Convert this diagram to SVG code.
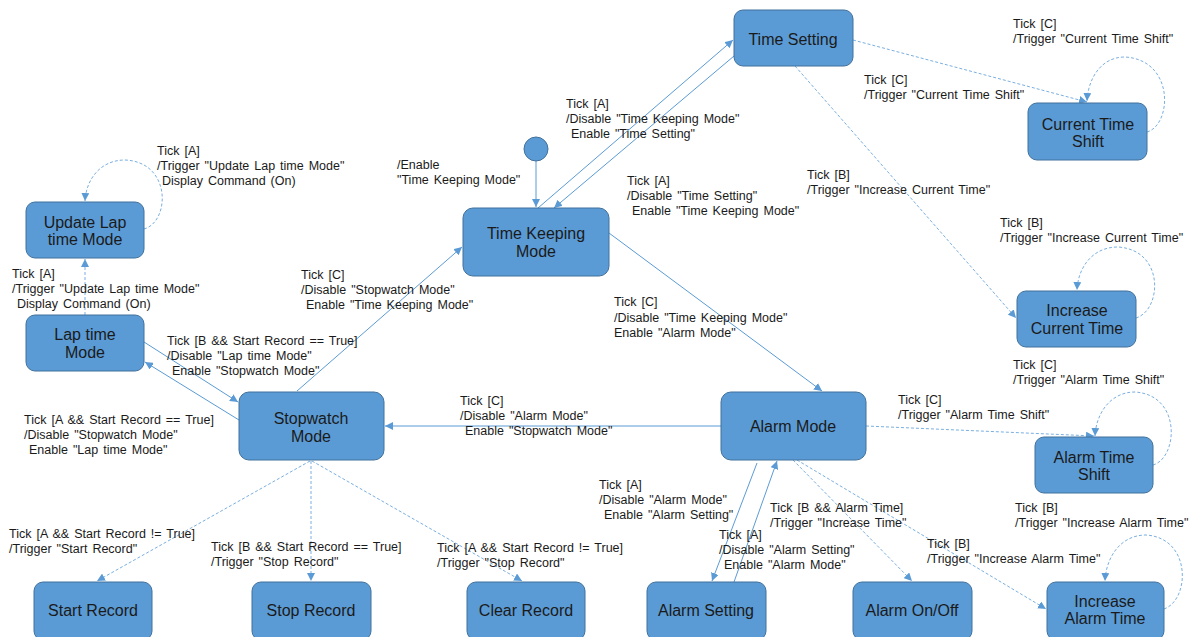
<svg xmlns="http://www.w3.org/2000/svg" width="1198" height="637" viewBox="0 0 1198 637">
<style>
.n{fill:#5b9bd5;stroke:#41719c;stroke-width:1}
.nt{font-family:"Liberation Sans",Arial,sans-serif;font-size:16px;fill:#1a1a1a;text-anchor:middle}
.lb{font-family:"Liberation Sans",Arial,sans-serif;font-size:12.5px;fill:#1a1a1a;word-spacing:1.5px}
.s{fill:none;stroke:#5b9bd5;stroke-width:1;marker-end:url(#ah)}
.d{fill:none;stroke:#7aafe0;stroke-width:1;stroke-dasharray:3 2;marker-end:url(#ah)}
</style>
<defs>
<marker id="ah" viewBox="0 0 10 10" refX="10" refY="5" markerWidth="8" markerHeight="8" markerUnits="userSpaceOnUse" orient="auto"><path d="M0,0 L10,5 L0,10 z" fill="#5b9bd5"/></marker>
</defs>
<rect width="1198" height="637" fill="#ffffff"/>
<g id="connectors">
<path class="s" d="M536,161 L536,207"/>
<path class="s" d="M538,208 L733,40"/>
<path class="s" d="M734,56 L554,208"/>
<path class="d" d="M853,40 L1087,102"/>
<path class="d" d="M1147,132 C1172,125 1175,60 1125,57 C1100,57 1088,80 1087,101"/>
<path class="d" d="M795,66 L1016,318"/>
<path class="d" d="M1136,318 C1162,310 1165,250 1118,247 C1092,247 1078,268 1077,290"/>
<path class="s" d="M609,233 L822,391"/>
<path class="s" d="M721,426 L385,426"/>
<path class="d" d="M866,426 L1094,436"/>
<path class="d" d="M1153,465 C1178,458 1182,395 1135,392 C1110,392 1096,414 1095,436"/>
<path class="s" d="M757,463 L712,581"/>
<path class="s" d="M734,582 L777,461"/>
<path class="d" d="M793,460 L912,581"/>
<path class="d" d="M797,460 L1046,609"/>
<path class="d" d="M1164,609 C1190,600 1192,538 1146,535 C1120,535 1106,558 1105,581"/>
<path class="s" d="M297,391 L462,247"/>
<path class="s" d="M144,342 L238,402"/>
<path class="s" d="M239,420 L145,362"/>
<path class="d" d="M85,315 L85,259"/>
<path class="d" d="M144,229 C170,222 172,162 125,160 C100,160 86,180 85,201"/>
<path class="d" d="M310,461 L97,581"/>
<path class="d" d="M311,461 L311,581"/>
<path class="d" d="M312,461 L522,581"/>
</g>
<g id="labels">
<text class="lb" x="157" y="155">Tick [A]</text>
<text class="lb" x="157" y="170">/Trigger "Update Lap time Mode"</text>
<text class="lb" x="162" y="185">Display Command (On)</text>
<text class="lb" x="12" y="278">Tick [A]</text>
<text class="lb" x="12" y="293">/Trigger "Update Lap time Mode"</text>
<text class="lb" x="17" y="308">Display Command (On)</text>
<text class="lb" x="167" y="345">Tick [B &amp;&amp; Start Record == True]</text>
<text class="lb" x="167" y="360">/Disable "Lap time Mode"</text>
<text class="lb" x="172" y="375">Enable "Stopwatch Mode"</text>
<text class="lb" x="24" y="424">Tick [A &amp;&amp; Start Record == True]</text>
<text class="lb" x="24" y="439">/Disable "Stopwatch Mode"</text>
<text class="lb" x="29" y="454">Enable "Lap time Mode"</text>
<text class="lb" x="301" y="279">Tick [C]</text>
<text class="lb" x="301" y="294">/Disable "Stopwatch Mode"</text>
<text class="lb" x="306" y="309">Enable "Time Keeping Mode"</text>
<text class="lb" x="397" y="169">/Enable</text>
<text class="lb" x="397" y="184">"Time Keeping Mode"</text>
<text class="lb" x="566" y="108">Tick [A]</text>
<text class="lb" x="566" y="123">/Disable "Time Keeping Mode"</text>
<text class="lb" x="571" y="138">Enable "Time Setting"</text>
<text class="lb" x="627" y="185">Tick [A]</text>
<text class="lb" x="627" y="200">/Disable "Time Setting"</text>
<text class="lb" x="632" y="215">Enable "Time Keeping Mode"</text>
<text class="lb" x="864" y="84">Tick [C]</text>
<text class="lb" x="864" y="99">/Trigger "Current Time Shift"</text>
<text class="lb" x="1013" y="28">Tick [C]</text>
<text class="lb" x="1013" y="43">/Trigger "Current Time Shift"</text>
<text class="lb" x="807" y="179">Tick [B]</text>
<text class="lb" x="807" y="194">/Trigger "Increase Current Time"</text>
<text class="lb" x="1000" y="227">Tick [B]</text>
<text class="lb" x="1000" y="242">/Trigger "Increase Current Time"</text>
<text class="lb" x="614" y="306">Tick [C]</text>
<text class="lb" x="614" y="322">/Disable "Time Keeping Mode"</text>
<text class="lb" x="614" y="337">Enable "Alarm Mode"</text>
<text class="lb" x="1013" y="369">Tick [C]</text>
<text class="lb" x="1013" y="384">/Trigger "Alarm Time Shift"</text>
<text class="lb" x="898" y="404">Tick [C]</text>
<text class="lb" x="898" y="419">/Trigger "Alarm Time Shift"</text>
<text class="lb" x="460" y="405">Tick [C]</text>
<text class="lb" x="460" y="420">/Disable "Alarm Mode"</text>
<text class="lb" x="465" y="435">Enable "Stopwatch Mode"</text>
<text class="lb" x="599" y="489">Tick [A]</text>
<text class="lb" x="599" y="504">/Disable "Alarm Mode"</text>
<text class="lb" x="604" y="519">Enable "Alarm Setting"</text>
<text class="lb" x="719" y="539">Tick [A]</text>
<text class="lb" x="719" y="554">/Disable "Alarm Setting"</text>
<text class="lb" x="724" y="569">Enable "Alarm Mode"</text>
<text class="lb" x="770" y="512">Tick [B &amp;&amp; Alarm Time]</text>
<text class="lb" x="770" y="527">/Trigger "Increase Time"</text>
<text class="lb" x="927" y="548">Tick [B]</text>
<text class="lb" x="927" y="563">/Trigger "Increase Alarm Time"</text>
<text class="lb" x="1015" y="512">Tick [B]</text>
<text class="lb" x="1015" y="527">/Trigger "Increase Alarm Time"</text>
<text class="lb" x="9" y="538">Tick [A &amp;&amp; Start Record != True]</text>
<text class="lb" x="9" y="553">/Trigger "Start Record"</text>
<text class="lb" x="211" y="551">Tick [B &amp;&amp; Start Record == True]</text>
<text class="lb" x="211" y="566">/Trigger "Stop Record"</text>
<text class="lb" x="437" y="552">Tick [A &amp;&amp; Start Record != True]</text>
<text class="lb" x="437" y="567">/Trigger "Stop Record"</text>
</g>
<g id="initial"><circle cx="536" cy="149" r="12" class="n"/></g>
<g id="update-lap"><rect class="n" x="26" y="202" width="118" height="56" rx="9"/><text class="nt" x="85" y="227.5">Update Lap</text><text class="nt" x="85" y="244.5">time Mode</text></g>
<g id="lap-time"><rect class="n" x="26" y="315" width="118" height="56" rx="9"/><text class="nt" x="85" y="339.5">Lap time</text><text class="nt" x="85" y="357.5">Mode</text></g>
<g id="stopwatch"><rect class="n" x="239" y="392" width="145" height="68" rx="10"/><text class="nt" x="311" y="423.5">Stopwatch</text><text class="nt" x="311" y="441.5">Mode</text></g>
<g id="time-keeping"><rect class="n" x="463" y="208" width="146" height="68" rx="10"/><text class="nt" x="536" y="238.5">Time Keeping</text><text class="nt" x="536" y="256.5">Mode</text></g>
<g id="time-setting"><rect class="n" x="734" y="10" width="119" height="56" rx="9"/><text class="nt" x="793" y="44.5">Time Setting</text></g>
<g id="current-time-shift"><rect class="n" x="1028" y="103" width="119" height="57" rx="9"/><text class="nt" x="1088" y="129.5">Current Time</text><text class="nt" x="1088" y="146.5">Shift</text></g>
<g id="increase-current-time"><rect class="n" x="1017" y="291" width="119" height="56" rx="9"/><text class="nt" x="1077" y="315.5">Increase</text><text class="nt" x="1077" y="333.5">Current Time</text></g>
<g id="alarm-mode"><rect class="n" x="721" y="392" width="145" height="68" rx="10"/><text class="nt" x="793" y="431.5">Alarm Mode</text></g>
<g id="alarm-time-shift"><rect class="n" x="1035" y="437" width="118" height="56" rx="9"/><text class="nt" x="1094" y="462.5">Alarm Time</text><text class="nt" x="1094" y="479.5">Shift</text></g>
<g id="increase-alarm-time"><rect class="n" x="1047" y="582" width="117" height="58" rx="9"/><text class="nt" x="1105" y="606.5">Increase</text><text class="nt" x="1105" y="623.5">Alarm Time</text></g>
<g id="alarm-onoff"><rect class="n" x="853" y="582" width="119" height="58" rx="9"/><text class="nt" x="912" y="615.5">Alarm On/Off</text></g>
<g id="alarm-setting"><rect class="n" x="647" y="582" width="119" height="58" rx="9"/><text class="nt" x="706" y="615.5">Alarm Setting</text></g>
<g id="clear-record"><rect class="n" x="467" y="582" width="118" height="58" rx="9"/><text class="nt" x="526" y="615.5">Clear Record</text></g>
<g id="stop-record"><rect class="n" x="252" y="582" width="119" height="58" rx="9"/><text class="nt" x="311" y="615.5">Stop Record</text></g>
<g id="start-record"><rect class="n" x="34" y="582" width="118" height="58" rx="9"/><text class="nt" x="93" y="615.5">Start Record</text></g>
</svg>
